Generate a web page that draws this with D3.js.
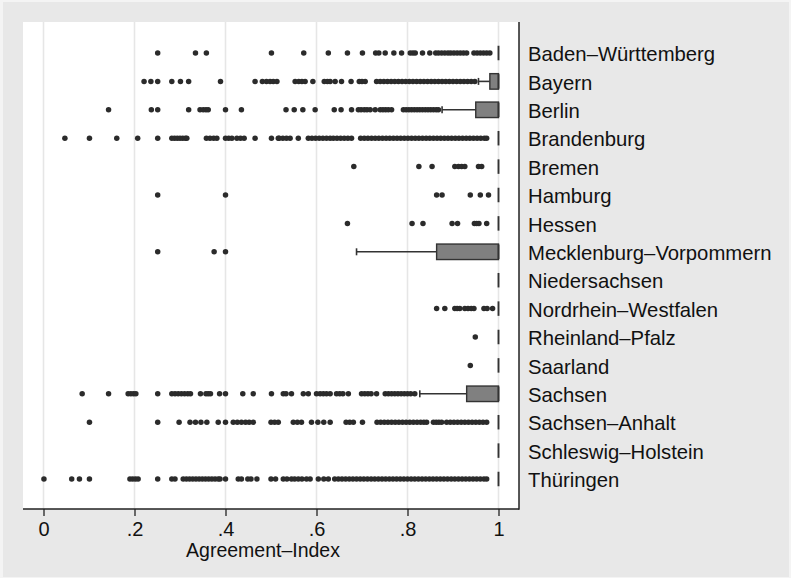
<!DOCTYPE html>
<html>
<head>
<meta charset="utf-8">
<script src="https://cdn.jsdelivr.net/npm/d3@7"></script>
<style>
  html, body { margin: 0; padding: 0; background: #f4f4f4; }
  svg { display: block; font-family: "Liberation Sans", Arial, Helvetica, sans-serif; }
</style>
</head>
<body>
<svg id="chart" width="791" height="578"></svg>
<script>
// ---- data ----
const categories = ["Baden–Württemberg","Bayern","Berlin","Brandenburg","Bremen","Hamburg","Hessen",
  "Mecklenburg–Vorpommern","Niedersachsen","Nordrhein–Westfalen","Rheinland–Pfalz","Saarland",
  "Sachsen","Sachsen–Anhalt","Schleswig–Holstein","Thüringen"];

const q1       = [1, 0.981, 0.950, 1, 1, 1, 1, 0.864, 1, 1, 1, 1, 0.930, 1, 1, 1];
const median   = [1, 1, 1, 1, 1, 1, 1, 1, 1, 1, 1, 1, 1, 1, 1, 1];
const q3       = [1, 1, 1, 1, 1, 1, 1, 1, 1, 1, 1, 1, 1, 1, 1, 1];
const whiskLo  = [1, 0.956, 0.876, 1, 1, 1, 1, 0.688, 1, 1, 1, 1, 0.827, 1, 1, 1];
const whiskHi  = [1, 1, 1, 1, 1, 1, 1, 1, 1, 1, 1, 1, 1, 1, 1, 1];

const outBW = [0.251,0.334,0.358,0.501,0.572,0.626,0.668,0.701,0.730,0.737,0.751,0.770,0.787,0.806,0.812,0.817,0.833,0.849,0.862,0.868,0.875,0.882,0.889,0.895,0.902,0.909,0.916,0.923,0.930,0.946,0.953,0.960,0.967,0.974,0.981];
const outBY = [0.221,0.236,0.251,0.282,0.301,0.319,0.389,0.465,0.481,0.490,0.498,0.505,0.513,0.553,0.561,0.568,0.575,0.592,0.617,0.624,0.630,0.641,0.655,0.676,0.694,0.700,0.707,
  0.732,0.740,0.748,0.756,0.764,0.772,0.780,0.788,0.796,0.804,0.812,0.820,0.828,0.836,0.844,0.852,0.860,0.868,0.876,0.884,0.892,0.900,0.908,0.916,0.924,0.932,0.940,0.948];
const outBE = [0.143,0.237,0.251,0.319,0.344,0.351,0.357,0.362,0.400,0.435,0.533,0.551,0.570,0.597,0.639,0.654,0.677,0.692,0.698,0.705,0.711,0.718,0.729,0.740,0.746,0.752,0.758,0.765,
  0.791,0.797,0.803,0.809,0.815,0.821,0.827,0.833,0.839,0.845,0.851,0.857,0.863,0.868];
const outBB = [0.047,0.101,0.161,0.207,0.251,0.282,0.288,0.294,0.300,0.306,0.312,0.315,0.358,0.366,0.374,0.381,0.400,0.407,0.414,0.425,0.433,0.441,0.465,0.501,0.516,0.518,0.526,0.534,0.542,0.560,
  0.582,0.590,0.598,0.606,0.614,0.622,0.630,0.637,0.645,0.653,0.661,0.669,0.677,
  0.697,0.705,0.713,0.721,0.729,0.737,0.745,0.753,0.761,0.769,0.777,0.785,0.793,0.801,0.809,0.817,0.825,0.833,0.841,0.849,0.857,0.865,0.873,0.881,0.889,0.897,0.905,0.913,0.921,0.929,0.937,0.945,0.953,0.961,0.969,0.974];
const outHB = [0.682,0.825,0.854,0.904,0.912,0.919,0.926,0.956,0.963];
const outHH = [0.251,0.400,0.864,0.876,0.938,0.960,0.978];
const outHE = [0.668,0.810,0.834,0.898,0.910,0.947,0.952,0.957,0.974];
const outMV = [0.251,0.375,0.400];
const outNI = [];
const outNW = [0.864,0.882,0.904,0.909,0.915,0.926,0.933,0.940,0.946,0.968,0.975,0.987];
const outRP = [0.949];
const outSL = [0.938];
const outSN = [0.085,0.143,0.186,0.192,0.198,0.203,0.251,0.282,0.289,0.296,0.303,0.310,0.317,0.323,0.345,0.357,0.362,0.367,0.387,0.400,0.438,0.461,0.501,0.527,0.533,0.545,0.571,0.582,
  0.600,0.608,0.615,0.622,0.630,0.644,0.651,0.658,0.670,0.699,0.706,0.713,0.720,0.732,0.751,0.758,0.765,0.772,0.779,0.786,0.793,0.800,0.807,0.816];
const outST = [0.101,0.251,0.298,0.322,0.334,0.346,0.359,0.384,0.400,0.417,0.426,0.435,0.444,0.452,0.461,0.500,0.508,0.516,0.549,0.558,0.567,0.589,0.603,0.616,0.630,0.665,0.673,0.681,0.701,
  0.733,0.741,0.749,0.757,0.765,0.773,0.781,0.789,0.797,0.805,0.813,0.821,0.829,0.836,0.842,0.857,0.863,0.869,0.875,0.886,0.894,0.902,0.910,0.918,0.926,0.934,0.942,0.950,0.958,0.966,0.974];
const outSH = [];
const outTH = [0.001,0.062,0.079,0.101,0.190,0.196,0.202,0.208,0.251,0.282,0.289,0.307,0.314,0.321,0.328,0.335,0.342,0.349,0.356,0.363,0.370,0.377,0.384,0.388,0.400,0.428,0.435,0.449,0.456,0.469,
  0.500,0.510,0.527,0.535,0.545,0.552,0.560,0.568,0.578,0.586,0.604,0.616,0.626,
  0.640,0.648,0.656,0.664,0.672,0.680,0.688,0.696,0.704,0.712,0.720,0.728,0.736,0.744,0.752,0.760,0.768,0.776,0.784,0.792,0.800,0.808,0.816,0.824,0.832,0.840,0.848,0.856,0.864,0.872,0.880,0.888,0.896,0.904,0.912,0.920,0.928,0.936,0.944,0.952,0.960,0.968,0.974];

const outliers = [outBW,outBY,outBE,outBB,outHB,outHH,outHE,outMV,outNI,outNW,outRP,outSL,outSN,outST,outSH,outTH];

const tickValues = [0, 0.2, 0.4, 0.6, 0.8, 1];
const tickLabels = ["0", ".2", ".4", ".6", ".8", "1"];
const xTitle = "Agreement–Index";

// ---- layout ----
const svg = d3.select("#chart");
const plot = { left: 23, right: 519, top: 22, bottom: 509 };

svg.append("rect").attr("x", 3).attr("y", 2).attr("width", 786).attr("height", 575).attr("fill", "#e8e8e8");
svg.append("rect").attr("x", plot.left).attr("y", plot.top)
  .attr("width", plot.right - plot.left).attr("height", plot.bottom - plot.top).attr("fill", "#ffffff");

const x = d3.scaleLinear().domain([0, 1]).range([43.5, 498.5]);
const y = d3.scalePoint().domain(categories).range([53, 479]);

// gridlines
svg.append("g").selectAll("line").data(tickValues).join("line")
  .attr("x1", d => x(d)).attr("x2", d => x(d))
  .attr("y1", plot.top).attr("y2", plot.bottom)
  .attr("stroke", "#e6e6e6").attr("stroke-width", 1.6);

const rows = categories.map((c, i) => ({ c, i, q1: q1[i], med: median[i], q3: q3[i], lo: whiskLo[i], hi: whiskHi[i], out: outliers[i] }));
const boxH = 15.5, capH = 7;
const g = svg.append("g");

// outliers
g.selectAll("g.out").data(rows).join("g").attr("class", "out")
  .selectAll("circle").data(d => d.out.map(v => ({ v, c: d.c }))).join("circle")
  .attr("cx", d => x(d.v)).attr("cy", d => y(d.c)).attr("r", 2.75).attr("fill", "#2b2b2b");

// whiskers
const wr = rows.filter(d => d.lo < d.q1);
g.selectAll("line.wh").data(wr).join("line").attr("class", "wh")
  .attr("x1", d => x(d.lo)).attr("x2", d => x(d.q1))
  .attr("y1", d => y(d.c)).attr("y2", d => y(d.c))
  .attr("stroke", "#333").attr("stroke-width", 1.6);
g.selectAll("line.cap").data(wr).join("line").attr("class", "cap")
  .attr("x1", d => x(d.lo)).attr("x2", d => x(d.lo))
  .attr("y1", d => y(d.c) - capH / 2).attr("y2", d => y(d.c) + capH / 2)
  .attr("stroke", "#333").attr("stroke-width", 1.6);

// boxes
const br = rows.filter(d => d.q1 < d.q3);
g.selectAll("rect.box").data(br).join("rect").attr("class", "box")
  .attr("x", d => x(d.q1)).attr("width", d => x(d.q3) - x(d.q1))
  .attr("y", d => y(d.c) - boxH / 2).attr("height", boxH)
  .attr("fill", "#808080").attr("stroke", "#333").attr("stroke-width", 1.4);

// median / degenerate boxes
g.selectAll("line.med").data(rows).join("line").attr("class", "med")
  .attr("x1", d => x(d.med)).attr("x2", d => x(d.med))
  .attr("y1", d => y(d.c) - boxH / 2 + 0.5).attr("y2", d => y(d.c) + boxH / 2 - 0.5)
  .attr("stroke", "#333").attr("stroke-width", 1.9);

// bottom axis
const xAxis = d3.axisBottom(x).tickValues(tickValues).tickFormat((d, i) => tickLabels[i]).tickSize(7).tickPadding(6);
const ax = svg.append("g").attr("transform", `translate(0,${plot.bottom})`).call(xAxis);
ax.select(".domain").remove();
ax.selectAll(".tick line").attr("stroke", "#222").attr("stroke-width", 1.3);
ax.selectAll(".tick text").attr("font-size", 20).attr("fill", "#111").attr("font-family", "Liberation Sans, Arial, sans-serif");

svg.append("line").attr("x1", plot.left).attr("x2", plot.right).attr("y1", plot.bottom).attr("y2", plot.bottom)
  .attr("stroke", "#222").attr("stroke-width", 1.5);
svg.append("line").attr("x1", plot.right).attr("x2", plot.right).attr("y1", plot.top).attr("y2", plot.bottom + 0.75)
  .attr("stroke", "#222").attr("stroke-width", 1.5);

// right category labels
const yAxis = d3.axisRight(y).tickSize(0).tickPadding(9);
const ay = svg.append("g").attr("transform", `translate(${plot.right},0)`).call(yAxis);
ay.select(".domain").remove();
ay.selectAll(".tick text").attr("font-size", 20.3).attr("fill", "#111").attr("dy", "0.38em").attr("font-family", "Liberation Sans, Arial, sans-serif");

// axis title
svg.append("text").attr("x", 263).attr("y", 557).attr("text-anchor", "middle")
  .attr("font-size", 19.5).attr("fill", "#111").text(xTitle);
</script>
</body>
</html>
